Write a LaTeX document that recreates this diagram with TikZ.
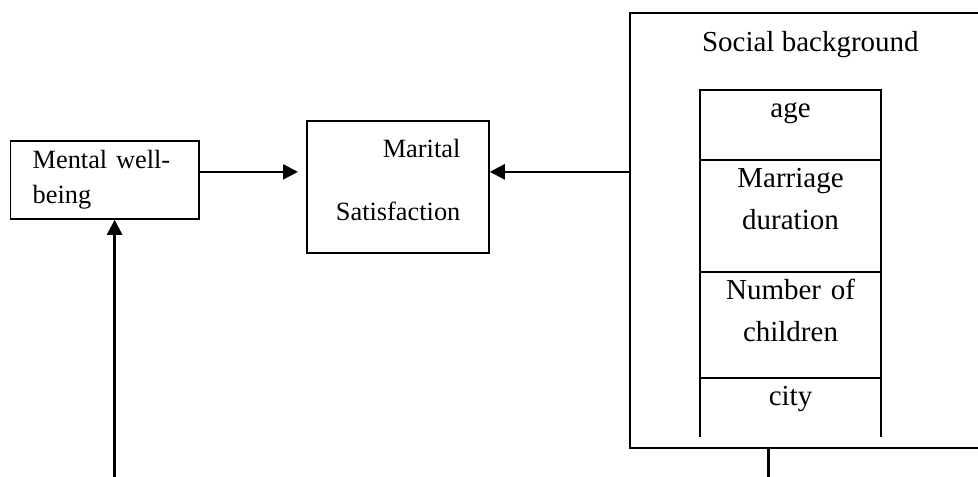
\documentclass[tikz,border=0pt]{standalone}
\usepackage{fontspec}
\setmainfont{Liberation Serif}
\usetikzlibrary{arrows.meta, positioning}

\begin{document}
\begin{tikzpicture}[
		box/.style={draw, line width=1pt, inner sep=0pt},
		cell/.style={draw, line width=1pt, minimum width=3.62cm, inner sep=0pt, outer sep=0pt},
		celltext/.style={font=\fontsize{16.5}{23.6}\selectfont, align=center, text width=3.4cm, inner sep=0pt},
		arrow/.style={-{Triangle[length=0.3cm, width=0.3cm]}, line width=1.4pt},
		link/.style={line width=1.4pt}
		]
		
		\useasboundingbox (0,0) rectangle (19.56,-9.54);
		
		% Left boxes
		\node[box, anchor=north west, minimum width=3.77cm, minimum height=1.56cm, text width=2.88cm, align=left, font=\fontsize{15}{19.8}\selectfont] (mental) at (0.19,-2.8) {Mental well-\\being};
		\node[box, anchor=north west, minimum width=3.64cm, minimum height=2.64cm, text width=2.5cm, align=right, font=\fontsize{15}{35.7}\selectfont] (marital) at (6.12,-2.4) {Marital\\Satisfaction\rule[-0.28cm]{0pt}{0pt}};
		
		% Social background (right side runs off the page)
		\node[anchor=north west, minimum width=6.96cm, minimum height=8.68cm, inner sep=0pt] (social) at (12.6,-0.26) {};
		\draw[line width=1pt] (social.north east) -- (social.north west) -- (social.south west) -- (social.south east);
		\node[anchor=base, font=\fontsize{16.5}{20}\selectfont] (title) at ([xshift=0.12cm, yshift=-0.78cm]social.north) {Social background};
		
		% Column
		\node[cell, anchor=north west, minimum height=1.4cm] (age) at (14.0,-1.8) {};
		\node[cell, minimum height=2.24cm, below=0pt of age] (duration) {};
		\node[cell, minimum height=2.12cm, below=0pt of duration] (children) {};
		\node[minimum width=3.62cm, minimum height=1.18cm, inner sep=0pt, outer sep=0pt, below=0pt of children] (city) {};
		\draw[line width=1pt] (city.north west) -- (city.south west) (city.north east) -- (city.south east);
		
		\node[celltext, anchor=base] (agetext) at ([yshift=-0.56cm]age.north) {age};
		\node[celltext, anchor=base] (durationtext) at ([yshift=-0.56cm]duration.north) {Marriage\\duration};
		\node[celltext, anchor=base] (childrentext) at ([yshift=-0.56cm]children.north) {Number of\\children};
		\node[celltext, anchor=base] (citytext) at ([yshift=-0.56cm]city.north) {city};
		
		% Arrows
		\coordinate (join) at ([yshift=0.16cm]mental.east);
		\coordinate (tip) at (join -| marital.west);
		\coordinate (base) at (0,-9.54);
		\draw[arrow] (join) -- ([xshift=-0.16cm]tip);
		\draw[arrow] (join -| social.west) -- (join -| marital.east);
		\draw[arrow] ([xshift=0.2cm]mental.south |- base) -- ([xshift=0.2cm]mental.south);
		\draw[link] ([xshift=-0.72cm]social.south) -- ([xshift=-0.72cm]social.south |- base);
		
	\end{tikzpicture}
\end{document}
